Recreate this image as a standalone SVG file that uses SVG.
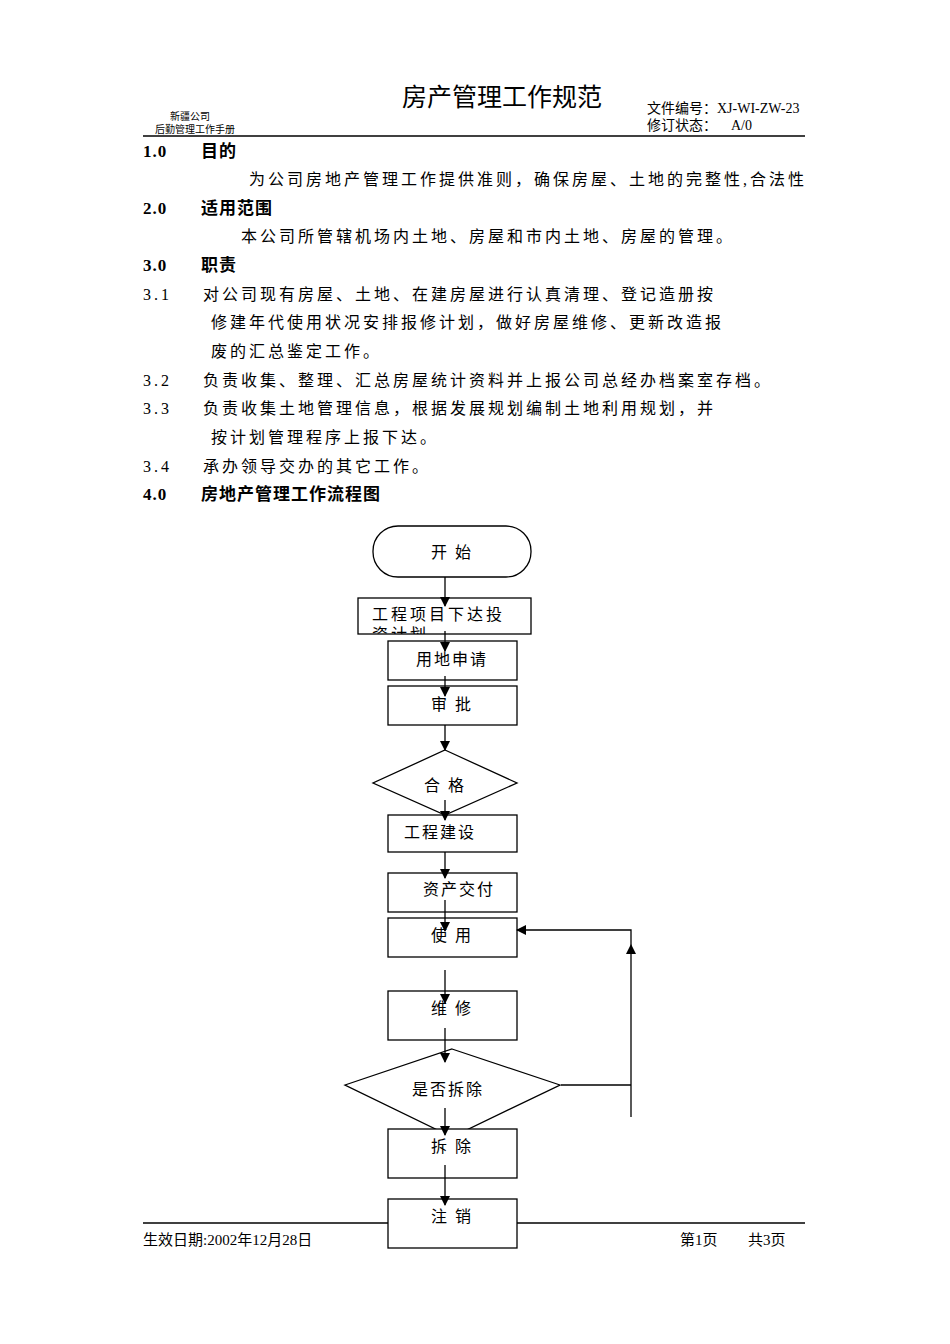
<svg xmlns="http://www.w3.org/2000/svg" width="950" height="1344" viewBox="0 0 950 1344">
<style>
text{font-family:"Liberation Serif","Noto Sans CJK SC",serif;fill:#000}
.s{font-family:"Noto Sans CJK SC",sans-serif}
.b{font-size:16px;letter-spacing:3px}
.h{font-size:17px;font-weight:bold;letter-spacing:1px}
.n{fill:#fff;stroke:#000;stroke-width:1.3}
.c{stroke:#000;stroke-width:1.3;fill:none}
.t{font-size:16px;text-anchor:middle;letter-spacing:2px}
</style>
<defs>
<marker id="a" markerWidth="10" markerHeight="10" refX="9" refY="5" orient="auto" markerUnits="userSpaceOnUse"><path d="M0,0L10,5L0,10z"/></marker>
<clipPath id="cp"><rect x="358" y="598" width="173" height="36"/></clipPath>
</defs>
<rect width="950" height="1344" fill="#fff"/>
<text x="502" y="106" class="s" font-size="25" text-anchor="middle">房产管理工作规范</text>
<text x="170" y="120" class="s" font-size="10">新疆公司</text>
<text x="155" y="133" class="s" font-size="10">后勤管理工作手册</text>
<text x="647" y="113" font-size="14">文件编号：XJ-WI-ZW-23</text>
<text x="647" y="130" font-size="14">修订状态：</text><text x="731" y="130" font-size="14">A/0</text>
<line x1="143" y1="136" x2="805" y2="136" stroke="#000" stroke-width="1.5"/>
<text x="143" y="157" class="h">1.0</text><text x="201" y="157" class="h">目的</text>
<text x="249" y="185" class="b">为公司房地产管理工作提供准则，确保房屋、土地的完整性,合法性</text>
<text x="143" y="214" class="h">2.0</text><text x="201" y="214" class="h">适用范围</text>
<text x="241" y="242" class="b">本公司所管辖机场内土地、房屋和市内土地、房屋的管理。</text>
<text x="143" y="271" class="h">3.0</text><text x="201" y="271" class="h">职责</text>
<text x="143" y="300" class="b">3.1</text><text x="203" y="300" class="b">对公司现有房屋、土地、在建房屋进行认真清理、登记造册按</text>
<text x="211" y="328" class="b">修建年代使用状况安排报修计划，做好房屋维修、更新改造报</text>
<text x="211" y="357" class="b">废的汇总鉴定工作。</text>
<text x="143" y="386" class="b">3.2</text><text x="203" y="386" class="b">负责收集、整理、汇总房屋统计资料并上报公司总经办档案室存档。</text>
<text x="143" y="414" class="b">3.3</text><text x="203" y="414" class="b">负责收集土地管理信息，根据发展规划编制土地利用规划，并</text>
<text x="211" y="443" class="b">按计划管理程序上报下达。</text>
<text x="143" y="472" class="b">3.4</text><text x="203" y="472" class="b">承办领导交办的其它工作。</text>
<text x="143" y="500" class="h">4.0</text><text x="201" y="500" class="h">房地产管理工作流程图</text>
<line x1="143" y1="1223" x2="805" y2="1223" stroke="#000" stroke-width="1.3"/>
<text x="143" y="1245" font-size="15">生效日期:2002年12月28日</text>
<text x="680" y="1245" font-size="15">第1页</text><text x="748" y="1245" font-size="15">共3页</text>
<g id="n1"><rect class="n" x="373" y="526" width="158" height="51" rx="25"/><text class="t" x="452" y="558" letter-spacing="8">开 始</text></g>
<g id="n2"><rect class="n" x="358" y="598" width="173" height="36"/><g clip-path="url(#cp)"><text x="372" y="620" font-size="16" letter-spacing="3">工程项目下达投</text><text x="372" y="640" font-size="16" letter-spacing="3">资计划</text></g></g>
<g id="n3"><rect class="n" x="388" y="641" width="129" height="39"/><text class="t" x="452" y="665">用地申请</text></g>
<g id="n4"><rect class="n" x="388" y="686" width="129" height="39"/><text class="t" x="452" y="710" letter-spacing="8">审 批</text></g>
<g id="n5"><polygon class="n" points="445,750 517,783 445,815 373,783"/><text class="t" x="445" y="791" letter-spacing="8">合 格</text></g>
<g id="n6"><rect class="n" x="388" y="815" width="129" height="37"/><text class="t" x="440" y="838">工程建设</text></g>
<g id="n7"><rect class="n" x="388" y="873" width="129" height="39"/><text class="t" x="459" y="895">资产交付</text></g>
<g id="n8"><rect class="n" x="388" y="918" width="129" height="39"/><text class="t" x="452" y="941" letter-spacing="8">使 用</text></g>
<g id="n9"><rect class="n" x="388" y="991" width="129" height="49"/><text class="t" x="452" y="1014" letter-spacing="8">维 修</text></g>
<g id="n10"><polygon class="n" points="452,1049 560,1085 452,1137 345,1085"/><text class="t" x="448" y="1095">是否拆除</text></g>
<g id="n11"><rect class="n" x="388" y="1129" width="129" height="49"/><text class="t" x="452" y="1152" letter-spacing="8">拆 除</text></g>
<g id="n12"><rect class="n" x="388" y="1199" width="129" height="49"/><text class="t" x="452" y="1222" letter-spacing="8">注 销</text></g>
<g id="connectors" class="c">
<line x1="445" y1="577" x2="445" y2="606" marker-end="url(#a)"/>
<line x1="445" y1="631" x2="445" y2="651" marker-end="url(#a)"/>
<line x1="445" y1="676" x2="445" y2="696" marker-end="url(#a)"/>
<line x1="445" y1="725" x2="445" y2="750" marker-end="url(#a)"/>
<line x1="445" y1="800" x2="445" y2="820" marker-end="url(#a)"/>
<line x1="445" y1="852" x2="445" y2="878" marker-end="url(#a)"/>
<line x1="445" y1="900" x2="445" y2="931" marker-end="url(#a)"/>
<line x1="445" y1="970" x2="445" y2="1003" marker-end="url(#a)"/>
<line x1="445" y1="1028" x2="445" y2="1062" marker-end="url(#a)"/>
<line x1="445" y1="1108" x2="445" y2="1135" marker-end="url(#a)"/>
<line x1="445" y1="1165" x2="445" y2="1205" marker-end="url(#a)"/>
<line x1="561" y1="1085" x2="631" y2="1085"/>
<line x1="631" y1="1117" x2="631" y2="945" marker-end="url(#a)"/>
<polyline points="631,945 631,930 517,930" marker-end="url(#a)"/>
</g>
</svg>
